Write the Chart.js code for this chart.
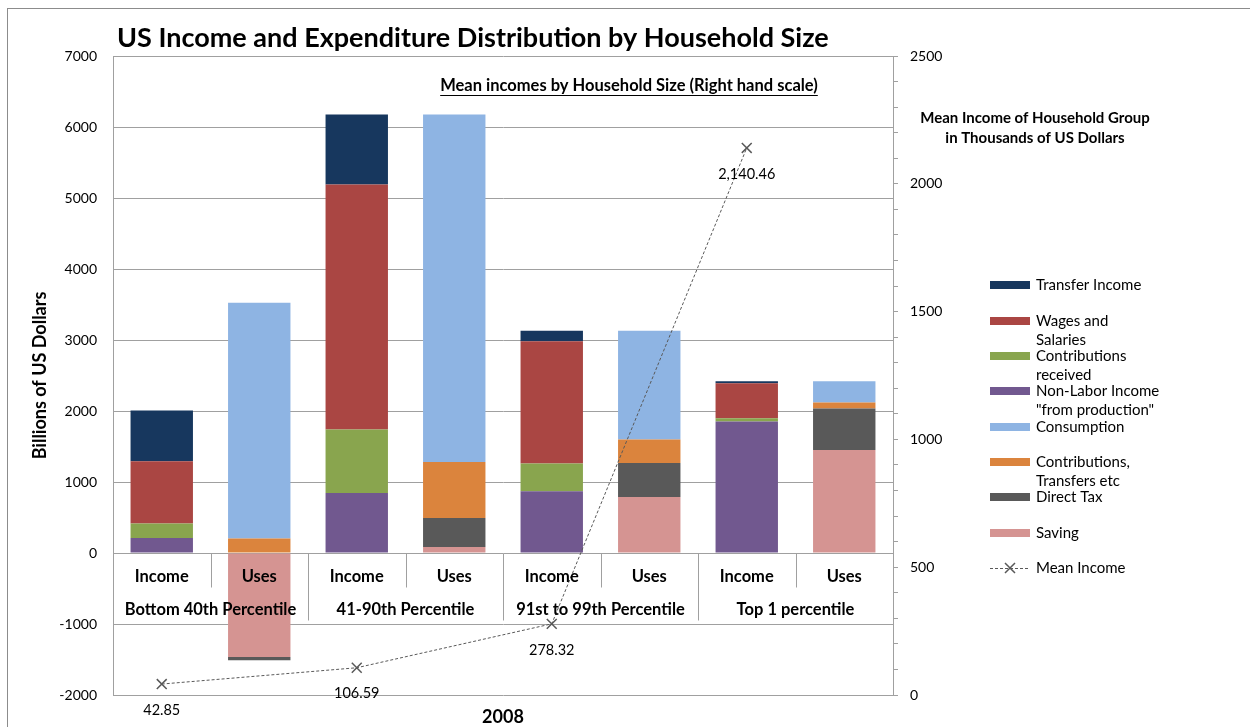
<!DOCTYPE html>
<html>
<head>
<meta charset="utf-8">
<script src="https://cdn.jsdelivr.net/npm/chart.js@4.4.1/dist/chart.umd.min.js"></script>
<style>
html,body{margin:0;padding:0;background:#fff;}
#wrap{width:1250px;height:727px;position:relative;}
</style>
</head>
<body>
<div id="wrap"><canvas id="c" width="1250" height="727"></canvas></div>
<script>
// ---- Data ----
const categories = ['Income','Uses','Income','Uses','Income','Uses','Income','Uses'];
const groups = ['Bottom 40th Percentile','41-90th Percentile','91st to 99th Percentile','Top 1 percentile'];
const transferIncome   = [714, null, 986, null, 150, null, 28, null];
const wagesSalaries    = [878, null, 3451, null, 1723, null, 493, null];
const contribReceived  = [203, null, 893, null, 390, null, 46, null];
const nonLaborIncome   = [211, null, 845, null, 869, null, 1851, null];
const consumption      = [null, 3323, null, 4893, null, 1535, null, 300];
const contribTransfers = [null, 203, null, 789, null, 329, null, 84];
const directTax        = [null, -45, null, 408, null, 479, null, 583];
const saving           = [null, -1465, null, 85, null, 789, null, 1451];
const meanIncome       = [42.85, null, 106.59, null, 278.32, null, 2140.46, null];
const leftTicks = [-2000,-1000,0,1000,2000,3000,4000,5000,6000,7000];
const rightTicks = [0,500,1000,1500,2000,2500];

const FONT = 'Lato, "Liberation Sans", sans-serif';
const GRID = '#a0a0a0';

const legendItems = [
  {lines:['Transfer Income'], color:'#17375E', y:285},
  {lines:['Wages and','Salaries'], color:'#AA4643', y:321},
  {lines:['Contributions','received'], color:'#89A54E', y:356},
  {lines:['Non-Labor Income','"from production"'], color:'#71588F', y:391},
  {lines:['Consumption'], color:'#8EB4E3', y:427},
  {lines:['Contributions,','Transfers etc'], color:'#DB843D', y:462},
  {lines:['Direct Tax'], color:'#595959', y:497},
  {lines:['Saving'], color:'#D59492', y:533},
  {lines:['Mean Income'], color:null, y:568}
];

const deco = {
  id:'deco',
  afterDatasetsDraw(chart){
    const ctx = chart.ctx, a = chart.chartArea;
    const x = chart.scales.x, y = chart.scales.y, y1 = chart.scales.y1;
    ctx.save();
    // category box
    const y0 = Math.round(y.getPixelForValue(0)) + 0.5;
    ctx.strokeStyle = GRID; ctx.lineWidth = 1;
    for (let i = 1; i < categories.length; i++) {
      const xp = Math.round((x.getPixelForValue(i-1) + x.getPixelForValue(i)) / 2) + 0.5;
      const long = (i % 2 === 0);
      ctx.beginPath(); ctx.moveTo(xp, y0); ctx.lineTo(xp, long ? y0 + 67 : y0 + 34); ctx.stroke();
    }
    ctx.fillStyle = '#000';
    ctx.textAlign = 'center'; ctx.textBaseline = 'middle';
    ctx.font = 'bold 16.5px ' + FONT;
    categories.forEach((c, i) => ctx.fillText(c, x.getPixelForValue(i), y0 + 23));
    groups.forEach((g, i) => {
      const xc = (x.getPixelForValue(2*i) + x.getPixelForValue(2*i+1)) / 2;
      ctx.fillText(g, xc, y0 + 56);
    });
    // data labels for line
    ctx.font = '14.5px ' + FONT;
    meanIncome.forEach((v, i) => {
      if (v == null) return;
      const t = v.toLocaleString('en-US', {minimumFractionDigits:2, maximumFractionDigits:2});
      ctx.fillText(t, x.getPixelForValue(i), y1.getPixelForValue(v) + 26);
    });
    // x axis title
    ctx.font = 'bold 18px ' + FONT;
    ctx.fillText('2008', (a.left + a.right) / 2, 717);
    // title
    ctx.textAlign = 'left';
    ctx.font = 'bold 27px ' + FONT;
    ctx.fillText('US Income and Expenditure Distribution by Household Size', 117, 38);
    // subtitle underlined
    ctx.textAlign = 'center';
    ctx.font = 'bold 16.5px ' + FONT;
    const sub = 'Mean incomes by Household Size (Right hand scale)';
    ctx.fillText(sub, 629, 86);
    const w = ctx.measureText(sub).width;
    ctx.strokeStyle = '#000'; ctx.lineWidth = 1;
    ctx.beginPath(); ctx.moveTo(629 - w/2, 95.5); ctx.lineTo(629 + w/2, 95.5); ctx.stroke();
    // right annotation
    ctx.font = 'bold 15px ' + FONT;
    ctx.fillText('Mean Income of Household Group', 1035, 118);
    ctx.fillText('in Thousands of US Dollars', 1035, 138);
    // legend
    ctx.textAlign = 'left';
    ctx.font = '15px ' + FONT;
    legendItems.forEach(it => {
      if (it.color) {
        ctx.fillStyle = it.color;
        ctx.fillRect(990, it.y - 4, 40, 8);
      } else {
        ctx.strokeStyle = '#595959'; ctx.lineWidth = 1;
        ctx.setLineDash([3,2]);
        ctx.beginPath(); ctx.moveTo(990, it.y + 0.5); ctx.lineTo(1030, it.y + 0.5); ctx.stroke();
        ctx.setLineDash([]);
        ctx.lineWidth = 1.5;
        ctx.beginPath();
        ctx.moveTo(1005, it.y - 5); ctx.lineTo(1015, it.y + 5);
        ctx.moveTo(1015, it.y - 5); ctx.lineTo(1005, it.y + 5);
        ctx.stroke();
      }
      ctx.fillStyle = '#000';
      it.lines.forEach((l, k) => ctx.fillText(l, 1036, it.y + k * 19));
    });
    // outer frame
    ctx.strokeStyle = '#8c8c8c'; ctx.lineWidth = 1;
    ctx.strokeRect(7.5, 8.5, 1400, 900);
    ctx.restore();
  }
};

const barDs = (label, data, color) => ({
  type:'bar', label, data, backgroundColor: color, yAxisID:'y',
  barPercentage: 0.64, categoryPercentage: 1.0, borderWidth: 0
});

new Chart(document.getElementById('c'), {
  data: {
    labels: categories,
    datasets: [
      barDs('Saving', saving, '#D59492'),
      barDs('Direct Tax', directTax, '#595959'),
      barDs('Contributions, Transfers etc', contribTransfers, '#DB843D'),
      barDs('Consumption', consumption, '#8EB4E3'),
      barDs('Non-Labor Income "from production"', nonLaborIncome, '#71588F'),
      barDs('Contributions received', contribReceived, '#89A54E'),
      barDs('Wages and Salaries', wagesSalaries, '#AA4643'),
      barDs('Transfer Income', transferIncome, '#17375E'),
      {
        type:'line', label:'Mean Income', data: meanIncome, yAxisID:'y1', order:-1,
        spanGaps:true, borderColor:'#595959', borderWidth:1, borderDash:[3,2],
        pointStyle:'crossRot', pointRadius:7, pointBorderColor:'#595959',
        pointBorderWidth:1.5, tension:0, fill:false
      }
    ]
  },
  options: {
    responsive:false, animation:false,
    layout:{ padding:{ left:0, right:297, top:56, bottom:32 } },
    plugins:{ legend:{display:false}, tooltip:{enabled:false}, title:{display:false} },
    scales:{
      x:{ display:false, stacked:true, offset:true },
      y:{
        stacked:true, position:'left', min:-2000, max:7000,
        afterFit(s){ s.width = 113; },
        afterBuildTicks(s){ s.ticks = leftTicks.map(v => ({value:v})); },
        ticks:{ color:'#000', font:{family:FONT, size:14}, padding:16,
                callback(v){ return String(v); } },
        grid:{ color:GRID, lineWidth:1, drawTicks:false },
        border:{ display:true, color:GRID },
        title:{ display:true, text:'Billions of US Dollars', color:'#000',
                font:{family:FONT, size:18, weight:'bold'}, padding:{top:29, bottom:0} }
      },
      y1:{
        position:'right', min:0, max:2500,
        afterFit(s){ s.width = 60; },
        ticks:{ stepSize:100, autoSkip:false, color:'#000', font:{family:FONT, size:14}, padding:12,
                callback(v){ return rightTicks.includes(v) ? String(v) : ''; } },
        grid:{ drawOnChartArea:false, color:GRID, tickLength:5 },
        border:{ display:true, color:GRID }
      }
    }
  },
  plugins:[deco]
});
</script>
</body>
</html>
